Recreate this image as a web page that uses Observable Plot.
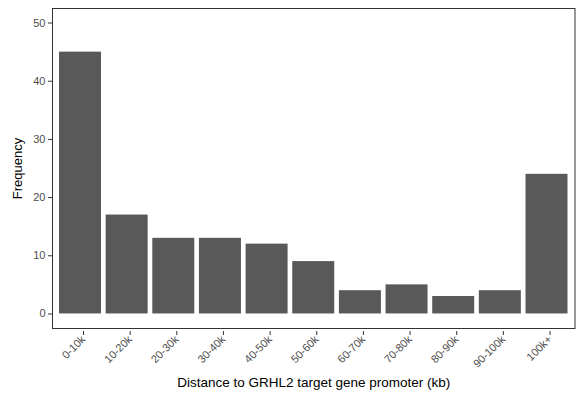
<!DOCTYPE html>
<html><head><meta charset="utf-8">
<script src="https://cdn.jsdelivr.net/npm/d3@7"></script>
<script src="https://cdn.jsdelivr.net/npm/@observablehq/plot@0.6"></script>
<style>
body{margin:0;background:#fff;}
svg{font-family:"Liberation Sans",Arial,sans-serif;}
</style></head>
<body><div id="chart"></div>
<script>
const categories = ["0-10k","10-20k","20-30k","30-40k","40-50k","50-60k","60-70k","70-80k","80-90k","90-100k","100k+"];
const frequencies = [45,17,13,13,12,9,4,5,3,4,24];
const yTicks = [0,10,20,30,40,50];
const data = categories.map((c,i)=>({bin:c, freq:frequencies[i]}));

const chart = Plot.plot({
  width: 577, height: 397,
  marginLeft: 52, marginTop: 8, marginRight: 2.5, marginBottom: 69,
  style: {fontFamily: '"Liberation Sans",Arial,sans-serif', background: "#fff"},
  x: {domain: categories, paddingInner: 0.1, paddingOuter: 0.15, round: false, label: null},
  y: {domain: [-2.5, 52.5], label: null},
  marks: [
    Plot.barY(data, {x: "bin", y1: 0, y2: "freq", fill: "#595959"}),
    Plot.frame({stroke: "#333333", strokeWidth: 1}),
    Plot.axisY(yTicks, {tickSize: 4, tickPadding: 3, fontSize: 11, color: "#4d4d4d", stroke: "#333", label: null}),
    Plot.axisX({tickSize: 4, tickRotate: -45, fontSize: 11, color: "#4d4d4d", stroke: "#333", label: null, textAnchor: "end", tickPadding: 2, dx: 3, dy: 3}),
    Plot.text(["Frequency"], {frameAnchor: "left", textAnchor: "middle", dx: -35, rotate: -90, fontSize: 13, fill: "#000"}),
    Plot.text(["Distance to GRHL2 target gene promoter (kb)"], {frameAnchor: "bottom", dy: 58, fontSize: 13.5, fill: "#000"})
  ]
});
document.getElementById("chart").appendChild(chart);
</script></body></html>
